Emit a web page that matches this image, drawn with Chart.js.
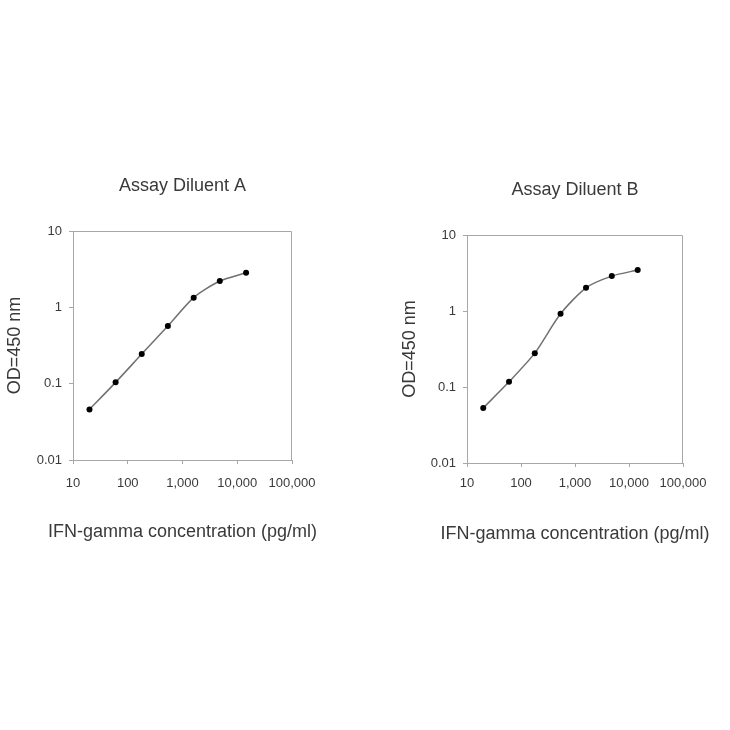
<!DOCTYPE html>
<html>
<head>
<meta charset="utf-8">
<script src="https://cdn.jsdelivr.net/npm/chart.js@4.4.1/dist/chart.umd.min.js"></script>
<style>
  body { margin: 0; background: #fff; width: 730px; height: 730px; position: relative; overflow: hidden; }
  canvas { position: absolute; }
</style>
</head>
<body>
<canvas id="chartA" width="365" height="380" style="left:0;top:170px;width:365px;height:380px"></canvas>
<canvas id="chartB" width="370" height="380" style="left:390px;top:170px;width:370px;height:380px"></canvas>
<script>
// IFN-gamma standard curves
const concentrations = [20, 60, 180, 540, 1600, 4800, 14500];
const odDiluentA = [0.046, 0.104, 0.244, 0.569, 1.34, 2.21, 2.84];
const odDiluentB = [0.053, 0.117, 0.279, 0.918, 2.02, 2.88, 3.46];
const xTicks = [10, 100, 1000, 10000, 100000];
const xTickLabels = ['10', '100', '1,000', '10,000', '100,000'];
const yTicks = [0.01, 0.1, 1, 10];
const yTickLabels = ['0.01', '0.1', '1', '10'];
const xAxisTitle = 'IFN-gamma concentration (pg/ml)';

const textColor = '#3a3a3a';
const boxColor = '#a8a8a8';

// top and right sides of the plot box, the chart title and the x title,
// both centred on the plot area (Chart.js would centre them on the canvas
// and squeeze the x title to the axis width)
const boxPlugin = {
  id: 'box',
  afterDraw(chart, args, opts) {
    const { ctx, chartArea: a } = chart;
    const cx = (a.left + a.right) / 2;
    ctx.save();
    ctx.strokeStyle = boxColor;
    ctx.lineWidth = 1;
    ctx.beginPath();
    ctx.moveTo(a.left, a.top + 0.5);
    ctx.lineTo(a.right - 0.5, a.top + 0.5);
    ctx.lineTo(a.right - 0.5, a.bottom);
    ctx.stroke();

    ctx.fillStyle = textColor;
    ctx.textAlign = 'center';
    ctx.textBaseline = 'middle';
    ctx.font = '18px "Liberation Sans"';
    ctx.fillText(opts.title, cx, opts.titleY);
    ctx.fillText(xAxisTitle, cx, opts.xTitleY);
    ctx.restore();
  }
};

function makeChart(id, title, values, s) {
  const points = concentrations.map((c, i) => ({ x: c, y: values[i] }));
  return new Chart(document.getElementById(id), {
    type: 'scatter',
    data: {
      datasets: [{
        data: points,
        showLine: true,
        borderColor: '#707070',
        borderWidth: 1.5,
        tension: 0.25,
        pointRadius: 3,
        pointBackgroundColor: '#000',
        pointBorderColor: '#000',
        pointBorderWidth: 0
      }]
    },
    options: {
      responsive: false,
      animation: false,
      layout: { padding: { left: 0, right: s.padRight, top: s.padTop, bottom: 0 } },
      plugins: {
        legend: { display: false },
        tooltip: { enabled: false },
        title: { display: false },
        box: { title: title, titleY: s.titleY, xTitleY: s.xTitleY }
      },
      scales: {
        x: {
          type: 'logarithmic',
          min: 10,
          max: 100000,
          afterBuildTicks: sc => { sc.ticks = xTicks.map(v => ({ value: v })); },
          afterFit: sc => { sc.height = s.xHeight; sc.paddingLeft = 0; sc.paddingRight = 0; },
          ticks: {
            color: textColor,
            font: { family: 'Liberation Sans', size: 13 },
            padding: s.xTickPad,
            maxRotation: 0,
            autoSkip: false,
            callback: (v, i) => xTickLabels[i]
          },
          grid: { drawOnChartArea: false, drawTicks: true, tickLength: 4, color: boxColor },
          border: { display: true, color: boxColor },
          title: { display: false }
        },
        y: {
          type: 'logarithmic',
          min: 0.01,
          max: 10,
          afterBuildTicks: sc => { sc.ticks = yTicks.map(v => ({ value: v })); },
          afterFit: sc => { sc.width = s.yWidth; sc.paddingTop = 0; sc.paddingBottom = 0; },
          ticks: {
            color: textColor,
            font: { family: 'Liberation Sans', size: 13 },
            padding: 7,
            autoSkip: false,
            callback: (v, i) => yTickLabels[i]
          },
          grid: { drawOnChartArea: false, drawTicks: true, tickLength: 4, color: boxColor },
          border: { display: true, color: boxColor },
          title: {
            display: true,
            text: 'OD=450 nm',
            color: textColor,
            font: { family: 'Liberation Sans', size: 18 },
            padding: { top: s.yTitleTop, bottom: 0 }
          }
        }
      }
    },
    plugins: [boxPlugin]
  });
}

makeChart('chartA', 'Assay Diluent A', odDiluentA, {
  padRight: 73, padTop: 61, titleY: 16, xHeight: 90, xTickPad: 11.5,
  xTitleY: 361.7, yWidth: 73, yTitleTop: 4.2
});
makeChart('chartB', 'Assay Diluent B', odDiluentB, {
  padRight: 77, padTop: 65, titleY: 20, xHeight: 87, xTickPad: 8.2,
  xTitleY: 364, yWidth: 77, yTitleTop: 9.2
});
</script>
</body>
</html>
